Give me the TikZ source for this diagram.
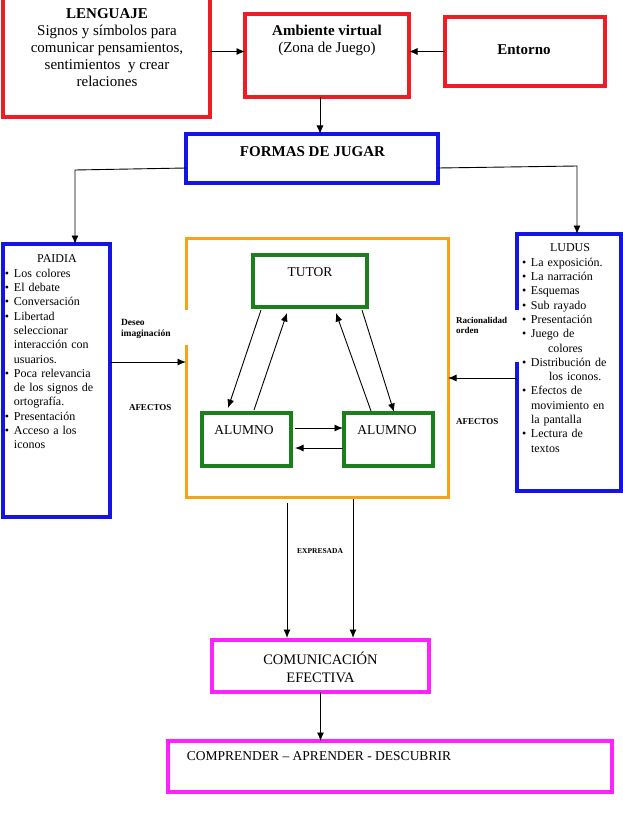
\documentclass[tikz,border=0pt]{standalone}
\usepackage{fontspec}
\setmainfont{Liberation Serif}
\usetikzlibrary{arrows.meta,calc}
\definecolor{cred}{HTML}{EE1C24}
\definecolor{cblue}{HTML}{1414E6}
\definecolor{corange}{HTML}{F7A21B}
\definecolor{cgreen}{HTML}{1B7F1B}
\definecolor{cmag}{HTML}{FF22FF}
\newcommand\myfs[2]{\fontsize{#1}{#2}\selectfont}
\newcommand\bul{\makebox[9pt][l]{\textbullet}}
\newcommand\ind{\hspace*{9pt}}
\begin{document}
\begin{tikzpicture}[x=1pt,y=-1pt,
  box/.style={inner sep=0pt, outer sep=0pt, anchor=north west, line width=3.2pt},
  redbox/.style={box, draw=cred},
  bluebox/.style={box, draw=cblue},
  greenbox/.style={box, draw=cgreen},
  magbox/.style={box, draw=cmag},
  openbox/.style={box, draw=none},
  oline/.style={draw=corange, line width=3pt},
  bline/.style={draw=cblue, line width=3.2pt},
  arr/.style={-{Latex[length=8.5pt,width=7pt]}, line width=0.9pt},
  txt/.style={inner sep=0pt, outer sep=0pt, align=center},
  bigtxt/.style={txt, font=\myfs{15}{17}},
  midtxt/.style={txt, font=\myfs{13.5}{16}},
  listtxt/.style={inner sep=0pt, outer sep=0pt, align=left, anchor=north west, font=\myfs{12}{14.3}},
  smalllab/.style={inner sep=0pt, outer sep=0pt, align=left, font=\myfs{9.5}{11}\bfseries},
]
\useasboundingbox (0,0) rectangle (623,832);

% boxes
\node[redbox, minimum width=207pt, minimum height=127pt] (leng) at (3,-10) {};
\node[redbox, minimum width=164pt, minimum height=83pt] (amb) at (245,14) {};
\node[redbox, minimum width=160pt, minimum height=69pt] (ent) at (445,17) {};
\node[bluebox, minimum width=252pt, minimum height=49pt] (formas) at (186,134) {};
\node[bluebox, minimum width=107pt, minimum height=273pt] (paidia) at (3,244) {};
\node[openbox, minimum width=104pt, minimum height=257pt] (ludus) at (517,234) {};
\node[openbox, minimum width=262pt, minimum height=259pt] (cen) at (186,238) {};
\node[greenbox, minimum width=114pt, minimum height=52pt] (tutor) at (253,255) {};
\node[greenbox, minimum width=89pt, minimum height=53pt] (al1) at (202,413) {};
\node[greenbox, minimum width=89pt, minimum height=53pt] (al2) at (344,413) {};
\node[magbox, minimum width=217pt, minimum height=52pt] (com) at (212,640) {};
\node[magbox, minimum width=444pt, minimum height=51pt] (compr) at (168,741) {};

% borders with gaps
\draw[oline] (186,310) -- (cen.north west) -- (cen.north east) -- (cen.south east) -- (cen.south west) -- (186,345);
\draw[bline] (517,310) -- (ludus.north west) -- (ludus.north east) -- (ludus.south east) -- (ludus.south west) -- (517,362);

% texts
\node[bigtxt, anchor=north] (lengtxt) at (107,8.5) {\textbf{LENGUAJE}\\Signos y símbolos para\\comunicar pensamientos,\\sentimientos\ \ y crear\\relaciones};
\node[bigtxt, anchor=north, font=\myfs{15}{17.5}] (ambtxt) at (327,25) {\textbf{Ambiente virtual}\\(Zona de Juego)};
\node[bigtxt, anchor=base] (enttxt) at (524,55) {\textbf{Entorno}};
\node[bigtxt, anchor=base] (formtxt) at (312.5,156) {\textbf{FORMAS DE JUGAR}};
\node[listtxt, text width=104pt] (paidtxt) at (5,255) {\makebox[104pt][c]{PAIDIA}\\
\bul Los colores\\
\bul El debate\\
\bul Conversación\\
\bul Libertad\\
\ind seleccionar\\
\ind interacción con\\
\ind usuarios.\\
\bul Poca relevancia\\
\ind de los signos de\\
\ind ortografía.\\
\bul Presentación\\
\bul Acceso a los\\
\ind iconos};
\node[listtxt, text width=96pt] (ludtxt) at (522,244) {\makebox[96pt][c]{LUDUS}\\
\bul La exposición.\\
\bul La narración\\
\bul Esquemas\\
\bul Sub rayado\\
\bul Presentación\\
\bul Juego de\\
\hspace*{26pt}colores\\
\bul Distribución de\\
\hspace*{27pt}los iconos.\\
\bul Efectos de\\
\ind movimiento en\\
\ind la pantalla\\
\bul Lectura de\\
\ind textos};
\node[smalllab, anchor=north west] (deseo) at (121,319) {Deseo\\imaginación};
\node[smalllab, anchor=base west, font=\myfs{9}{11}\bfseries] (afl) at (129,410) {AFECTOS};
\node[smalllab, anchor=north west, font=\myfs{9}{10.5}\bfseries] (racio) at (456,317) {Racionalidad\\orden};
\node[smalllab, anchor=base west, font=\myfs{9}{11}\bfseries] (afr) at (456,424) {AFECTOS};
\node[smalllab, anchor=base, font=\myfs{7.5}{9}\bfseries] (expr) at (320,553) {EXPRESADA};
\node[midtxt, anchor=base] (tutortxt) at (310,276) {TUTOR};
\node[midtxt, anchor=base] (al1txt) at (244,434) {ALUMNO};
\node[midtxt, anchor=base] (al2txt) at (387,434) {ALUMNO};
\node[txt, anchor=north, font=\myfs{14.5}{18}] (comtxt) at (320.5,652) {COMUNICACIÓN\\EFECTIVA};
\node[midtxt, anchor=base] (comprtxt) at (319,760.7) {COMPRENDER – APRENDER - DESCUBRIR};

% connectors top
\draw[arr] (leng.east |- ent.west) -- (amb.west |- ent.west);
\draw[arr] (ent.west) -- (ent.west -| amb.east);
\draw[arr] ($(amb.south)+(-7,0)$) coordinate (as) -- (as |- formas.north);
\coordinate (rk) at (577,166);
\coordinate (lk) at (75,170);
\draw[arr] ($(formas.east)+(0,9.5)$) -- (rk) -- (rk |- ludus.north);
\draw[arr] ($(formas.west)+(0,9.5)$) -- (lk) -- (lk |- paidia.north);
\draw[arr] ($(paidia.east)+(0,-18.5)$) coordinate (pa) -- (pa -| cen.west);
\draw[arr] ($(ludus.west)+(0,15.5)$) coordinate (lu) -- (lu -| cen.east);

% triangle
\draw[arr] ($(tutor.south)+(-49,3)$) -- ($(al1.north)+(-18.5,-5)$);
\draw[arr] ($(al1.north)+(7.5,-3)$) -- ($(tutor.south)+(-23,6)$);
\draw[arr] ($(al2.north)+(-17.5,-2)$) -- ($(tutor.south)+(26,6)$);
\draw[arr] ($(tutor.south)+(52,3)$) -- ($(al2.north)+(5.5,-1)$);
\draw[arr] ($(al1.east)+(4,-11.5)$) -- ($(al2.west)+(-1,-11.5)$);
\draw[arr] ($(al2.west)+(-1,8.5)$) -- ($(al1.east)+(4,8.5)$);

% bottom
\draw[arr] ($(cen.south)+(-30,6)$) -- ($(com.north)+(-33.5,-2)$);
\draw[arr] ($(cen.south)+(36,2)$) -- ($(com.north)+(32.5,-2)$);
\draw[arr] (com.south) -- (com.south |- compr.north);
\end{tikzpicture}
\end{document}
